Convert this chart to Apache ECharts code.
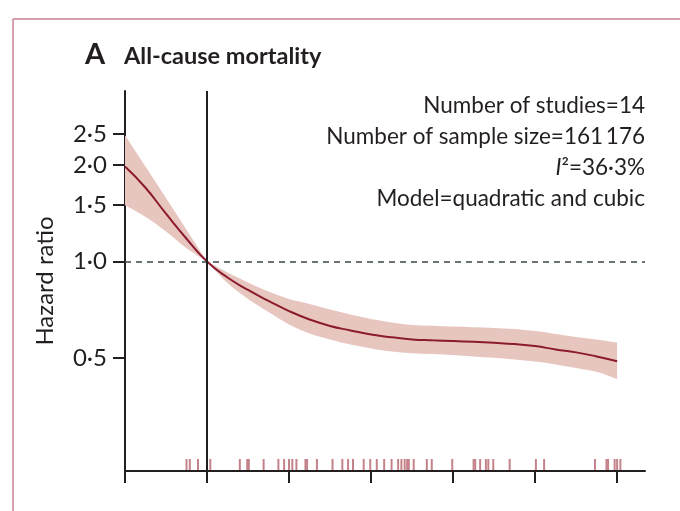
<!DOCTYPE html>
<html>
<head>
<meta charset="utf-8">
<script src="https://cdn.jsdelivr.net/npm/echarts@6/dist/echarts.min.js"></script>
<style>
  html, body { margin: 0; padding: 0; background: #fff; }
  #chart { width: 680px; height: 511px; }
</style>
</head>
<body>
<div id="chart"></div>
<script>
// values (hazard ratio) at each x position
const xPoints = [0, 0.25, 0.5, 0.75, 1, 1.25, 1.5, 1.75, 2, 2.25, 2.5, 2.75, 3,
  3.25, 3.5, 3.75, 4, 4.25, 4.5, 4.75, 5, 5.25, 5.5, 5.75, 6];
const hrCentral = [1.98, 1.70, 1.41, 1.178, 1.0, 0.891, 0.815, 0.753, 0.700, 0.659, 0.629, 0.609, 0.591,
  0.580, 0.571, 0.567, 0.564, 0.561, 0.557, 0.552, 0.544, 0.531, 0.520, 0.505, 0.488];
const hrUpper = [2.48, 1.98, 1.58, 1.257, 1.0, 0.924, 0.860, 0.806, 0.764, 0.737, 0.708, 0.683, 0.661,
  0.645, 0.633, 0.630, 0.626, 0.623, 0.620, 0.615, 0.606, 0.594, 0.581, 0.571, 0.558];
const hrLower = [1.50, 1.38, 1.24, 1.10, 1.0, 0.857, 0.764, 0.695, 0.636, 0.596, 0.571, 0.550, 0.535,
  0.523, 0.517, 0.514, 0.510, 0.505, 0.500, 0.494, 0.487, 0.477, 0.465, 0.452, 0.429];

// rug of study exposure levels along the x axis
const rugX = [0.75, 0.79, 0.89, 1.04, 1.40, 1.49, 1.51, 1.69, 1.87, 1.94, 2.00, 2.04, 2.09,
  2.20, 2.22, 2.34, 2.53, 2.65, 2.72, 2.78, 2.91, 2.99, 3.07, 3.16, 3.25, 3.33, 3.37, 3.41,
  3.44, 3.46, 3.52, 3.68, 3.74, 3.99, 4.25, 4.27, 4.33, 4.40, 4.43, 4.49, 4.69, 5.01, 5.11,
  5.73, 5.87, 5.89, 5.97, 6.00, 6.04];

const xTicks = [0, 1, 2, 3, 4, 5, 6];
const yTicks = [0.5, 1.0, 1.5, 2.0, 2.5];
const refX = 1;
const refHR = 1;

const statLines = [
  'Number of studies=14',
  'Number of sample size=161\u2009176',
  '{it|I}\u00b2=36·3%',
  'Model=quadratic and cubic'
];

const xMax = 6.34;
const yMin = Math.log(0.2215);
const yMax = Math.log(3.41);

const lineColor = '#8b1a2e';
const bandColor = '#e8c6c0';
const rugColor = '#c4838a';
const inkColor = '#231f20';
const fontFamily = 'Lato, "Open Sans", sans-serif';

const chart = echarts.init(document.getElementById('chart'));

// y axis is drawn on a log scale, so everything is plotted as ln(HR)
const centralData = xPoints.map((x, i) => [x, Math.log(hrCentral[i])]);

// smooth bezier commands through pixel points (catmull-rom)
function curveCmds(pts) {
  let d = '';
  for (let i = 0; i < pts.length - 1; i++) {
    const p0 = pts[i - 1] || pts[i];
    const p1 = pts[i];
    const p2 = pts[i + 1];
    const p3 = pts[i + 2] || p2;
    const c1 = [p1[0] + (p2[0] - p0[0]) / 6, p1[1] + (p2[1] - p0[1]) / 6];
    const c2 = [p2[0] - (p3[0] - p1[0]) / 6, p2[1] - (p3[1] - p1[1]) / 6];
    d += ' C' + c1[0] + ',' + c1[1] + ' ' + c2[0] + ',' + c2[1] + ' ' + p2[0] + ',' + p2[1];
  }
  return d;
}

// edge drawn in pieces, split where the band pinches to the reference point
function edgeCmds(pts, pinch) {
  return curveCmds(pts.slice(0, pinch + 1)) + curveCmds(pts.slice(pinch));
}

chart.setOption({
  animation: false,
  backgroundColor: '#fff',
  textStyle: { fontFamily: fontFamily },
  grid: { left: 125, right: 35, top: 91, bottom: 40 },
  graphic: [
    { type: 'line', shape: { x1: 13, y1: 19, x2: 680, y2: 19 }, style: { stroke: '#c98290', lineWidth: 1.5 } },
    { type: 'line', shape: { x1: 13, y1: 19, x2: 13, y2: 511 }, style: { stroke: '#c98290', lineWidth: 1.5 } },
    { type: 'text', x: 85, y: 55, style: { text: 'A', font: 'bold 29px ' + fontFamily, fill: inkColor, verticalAlign: 'middle' } },
    { type: 'text', x: 124, y: 56, style: { text: 'All-cause mortality', font: 'bold 23.5px ' + fontFamily, fill: inkColor, verticalAlign: 'middle' } }
  ].concat(statLines.map((t, i) => ({
    type: 'text',
    x: 645,
    y: 106 + i * 31,
    style: {
      text: t,
      font: '22.5px ' + fontFamily,
      fill: inkColor,
      align: 'right',
      verticalAlign: 'middle',
      rich: { it: { fontStyle: 'italic', fontSize: 22.5, fontFamily: fontFamily, fill: inkColor } }
    }
  }))),
  xAxis: {
    type: 'value',
    min: 0,
    max: xMax,
    splitLine: { show: false },
    axisLine: { onZero: false, lineStyle: { color: inkColor, width: 2 } },
    axisTick: { customValues: xTicks, length: 12, lineStyle: { color: inkColor, width: 2 } },
    axisLabel: { show: false, customValues: xTicks }
  },
  yAxis: {
    type: 'value',
    min: yMin,
    max: yMax,
    name: 'Hazard ratio',
    nameLocation: 'middle',
    nameRotate: 90,
    nameGap: 68,
    nameTextStyle: { fontSize: 24, color: inkColor, fontFamily: fontFamily },
    splitLine: { show: false },
    axisLine: { onZero: false, lineStyle: { color: inkColor, width: 2 } },
    axisTick: { customValues: yTicks.map(Math.log), length: 12, lineStyle: { color: inkColor, width: 2 } },
    axisLabel: {
      customValues: yTicks.map(Math.log),
      margin: 18,
      fontSize: 24,
      color: inkColor,
      fontFamily: fontFamily,
      formatter: v => Math.exp(v).toFixed(1).replace('.', '·')
    }
  },
  series: [
    {
      name: 'band',
      type: 'custom',
      z: 1,
      data: [[0, 0]],
      renderItem: function (params, api) {
        const pinch = xPoints.indexOf(refX);
        const up = xPoints.map((x, i) => api.coord([x, Math.log(hrUpper[i])]));
        const low = xPoints.map((x, i) => api.coord([x, Math.log(hrLower[i])])).reverse();
        const lowPinch = xPoints.length - 1 - pinch;
        const d = 'M' + up[0][0] + ',' + up[0][1] + edgeCmds(up, pinch) +
          ' L' + low[0][0] + ',' + low[0][1] + edgeCmds(low, lowPinch) + ' Z';
        return { type: 'path', shape: { pathData: d }, style: { fill: bandColor } };
      }
    },
    {
      name: 'rug',
      type: 'custom',
      z: 2,
      data: rugX.map(x => [x, yMin]),
      renderItem: function (params, api) {
        const p = api.coord([api.value(0), api.value(1)]);
        return { type: 'rect', shape: { x: p[0] - 1, y: p[1] - 12, width: 2, height: 11 }, style: { fill: rugColor } };
      }
    },
    {
      name: 'Hazard ratio',
      type: 'line',
      z: 3,
      data: centralData,
      smooth: true,
      showSymbol: false,
      lineStyle: { color: lineColor, width: 2 },
      markLine: {
        silent: true,
        symbol: 'none',
        label: { show: false },
        data: [
          { yAxis: Math.log(refHR), lineStyle: { color: '#3d4848', width: 1.5, type: [6, 5] } },
          { xAxis: refX, lineStyle: { color: inkColor, width: 2, type: 'solid' } }
        ]
      }
    }
  ]
});
</script>
</body>
</html>
